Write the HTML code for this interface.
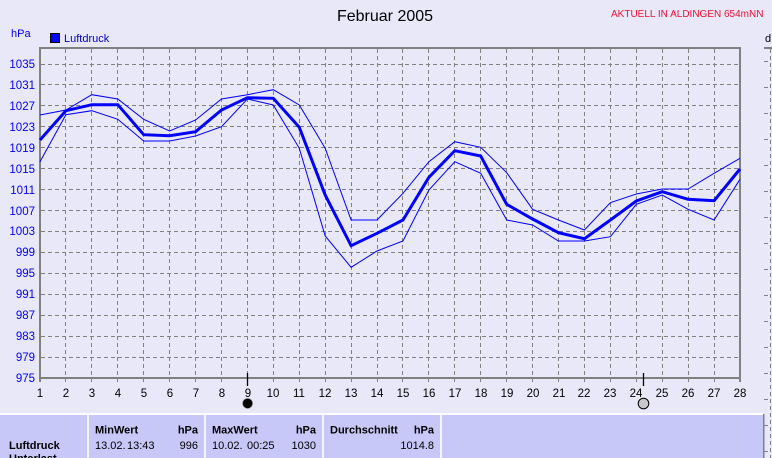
<!DOCTYPE html>
<html>
<head>
<meta charset="utf-8">
<style>
html,body{margin:0;padding:0;background:#E8E8F8;}
svg{display:block;font-family:"Liberation Sans",Arial,sans-serif;}
</style>
</head>
<body>
<svg width="772" height="458" viewBox="0 0 772 458" xmlns="http://www.w3.org/2000/svg">
<rect x="0" y="0" width="772" height="458" fill="#E8E8F8"/>

<!-- Title -->
<text x="385" y="21" font-size="16" text-anchor="middle" fill="#000">Februar 2005</text>
<text x="611" y="17" font-size="10" fill="#F01030">AKTUELL IN ALDINGEN 654mNN</text>

<!-- hPa + legend -->
<text x="11" y="37" font-size="11" fill="#0000FF">hPa</text>
<rect x="50.5" y="33.5" width="9" height="9" fill="#0000FF" stroke="#000" stroke-width="1"/>
<text x="64" y="42" font-size="11" fill="#0000C0">Luftdruck</text>

<!-- Horizontal gridlines -->
<g stroke="#808080" stroke-width="1" stroke-dasharray="4 3" shape-rendering="crispEdges">
<line x1="41" x2="739" y1="357.5" y2="357.5"/>
<line x1="41" x2="739" y1="336.5" y2="336.5"/>
<line x1="41" x2="739" y1="315.5" y2="315.5"/>
<line x1="41" x2="739" y1="294.5" y2="294.5"/>
<line x1="41" x2="739" y1="273.5" y2="273.5"/>
<line x1="41" x2="739" y1="252.5" y2="252.5"/>
<line x1="41" x2="739" y1="231.5" y2="231.5"/>
<line x1="41" x2="739" y1="210.5" y2="210.5"/>
<line x1="41" x2="739" y1="189.5" y2="189.5"/>
<line x1="41" x2="739" y1="168.5" y2="168.5"/>
<line x1="41" x2="739" y1="147.5" y2="147.5"/>
<line x1="41" x2="739" y1="126.5" y2="126.5"/>
<line x1="41" x2="739" y1="105.5" y2="105.5"/>
<line x1="41" x2="739" y1="84.5" y2="84.5"/>
<line x1="41" x2="739" y1="64.5" y2="64.5"/>
</g>

<!-- Vertical gridlines -->
<g stroke="#808080" stroke-width="1" stroke-dasharray="4 3" shape-rendering="crispEdges">
<line y1="49" y2="382" x1="65.5" x2="65.5"/>
<line y1="49" y2="382" x1="91.5" x2="91.5"/>
<line y1="49" y2="382" x1="117.5" x2="117.5"/>
<line y1="49" y2="382" x1="143.5" x2="143.5"/>
<line y1="49" y2="382" x1="169.5" x2="169.5"/>
<line y1="49" y2="382" x1="195.5" x2="195.5"/>
<line y1="49" y2="382" x1="221.5" x2="221.5"/>
<line y1="49" y2="382" x1="247.5" x2="247.5"/>
<line y1="49" y2="382" x1="273.5" x2="273.5"/>
<line y1="49" y2="382" x1="299.5" x2="299.5"/>
<line y1="49" y2="382" x1="325.5" x2="325.5"/>
<line y1="49" y2="382" x1="351.5" x2="351.5"/>
<line y1="49" y2="382" x1="377.5" x2="377.5"/>
<line y1="49" y2="382" x1="402.5" x2="402.5"/>
<line y1="49" y2="382" x1="428.5" x2="428.5"/>
<line y1="49" y2="382" x1="454.5" x2="454.5"/>
<line y1="49" y2="382" x1="480.5" x2="480.5"/>
<line y1="49" y2="382" x1="506.5" x2="506.5"/>
<line y1="49" y2="382" x1="532.5" x2="532.5"/>
<line y1="49" y2="382" x1="558.5" x2="558.5"/>
<line y1="49" y2="382" x1="584.5" x2="584.5"/>
<line y1="49" y2="382" x1="610.5" x2="610.5"/>
<line y1="49" y2="382" x1="636.5" x2="636.5"/>
<line y1="49" y2="382" x1="662.5" x2="662.5"/>
<line y1="49" y2="382" x1="688.5" x2="688.5"/>
<line y1="49" y2="382" x1="714.5" x2="714.5"/>
</g>

<!-- Frame -->
<rect x="40" y="48" width="700" height="330" fill="none" stroke="#808080" stroke-width="2"/>
<line x1="40" y1="378" x2="40" y2="382" stroke="#808080" stroke-width="2"/>
<line x1="740" y1="378" x2="740" y2="382" stroke="#808080" stroke-width="2"/>

<!-- Y labels -->
<g font-size="11.5" fill="#0000FF" text-anchor="end">
<text x="35" y="382">975</text>
<text x="35" y="361">979</text>
<text x="35" y="340">983</text>
<text x="35" y="319">987</text>
<text x="35" y="298">991</text>
<text x="35" y="277">995</text>
<text x="35" y="256">999</text>
<text x="35" y="235">1003</text>
<text x="35" y="215">1007</text>
<text x="35" y="194">1011</text>
<text x="35" y="173">1015</text>
<text x="35" y="152">1019</text>
<text x="35" y="131">1023</text>
<text x="35" y="110">1027</text>
<text x="35" y="89">1031</text>
<text x="35" y="68">1035</text>
</g>

<!-- X labels -->
<g font-size="11.5" fill="#000" text-anchor="middle">
<text x="40" y="397">1</text>
<text x="66" y="397">2</text>
<text x="92" y="397">3</text>
<text x="118" y="397">4</text>
<text x="144" y="397">5</text>
<text x="170" y="397">6</text>
<text x="196" y="397">7</text>
<text x="222" y="397">8</text>
<text x="248" y="397">9</text>
<text x="273" y="397">10</text>
<text x="299" y="397">11</text>
<text x="325" y="397">12</text>
<text x="351" y="397">13</text>
<text x="377" y="397">14</text>
<text x="403" y="397">15</text>
<text x="429" y="397">16</text>
<text x="455" y="397">17</text>
<text x="481" y="397">18</text>
<text x="507" y="397">19</text>
<text x="533" y="397">20</text>
<text x="559" y="397">21</text>
<text x="584" y="397">22</text>
<text x="610" y="397">23</text>
<text x="636" y="397">24</text>
<text x="662" y="397">25</text>
<text x="688" y="397">26</text>
<text x="714" y="397">27</text>
<text x="740" y="397">28</text>
</g>

<!-- Series -->
<g fill="none" stroke="#0000FF" stroke-linejoin="miter">
<polyline stroke-width="1" points="40,115 65.9,110 91.8,94.7 117.8,99 143.7,119.3 169.6,131 195.6,120 221.5,99 247.4,94.7 273.3,89.7 299.3,105 325.2,148.3 351.1,220 377,220 403,193.3 428.9,161.7 454.8,141.7 480.7,147.3 506.7,172.7 532.6,209.3 558.5,220 584.4,230 610.4,202.7 636.3,194 662.2,189 688.1,189 714.1,173.3 740,158.3"/>
<polyline stroke-width="3" points="40,140 65.9,110.7 91.8,104.7 117.8,104.7 143.7,134.7 169.6,135.7 195.6,131.7 221.5,110 247.4,97.7 273.3,98.3 299.3,127.3 325.2,195 351.1,245.7 377,233.3 403,220 428.9,177.3 454.8,150.7 480.7,156 506.7,204.3 532.6,219 558.5,232.7 584.4,238.7 610.4,220 636.3,201 662.2,191.7 688.1,199.3 714.1,200.7 740,169"/>
<polyline stroke-width="1" points="40,161.7 65.9,114.7 91.8,110.7 117.8,119.3 143.7,141 169.6,141 195.6,136 221.5,126.7 247.4,99 273.3,105 299.3,148.3 325.2,236 351.1,267.3 377,251 403,241 428.9,190 454.8,161.7 480.7,173.3 506.7,220 532.6,225 558.5,241 584.4,241 610.4,236.7 636.3,204.3 662.2,195 688.1,209.3 714.1,220 740,179.3"/>
</g>

<!-- Moon markers -->
<line x1="247.5" y1="373" x2="247.5" y2="386" stroke="#000" stroke-width="1.3"/>
<circle cx="247.6" cy="403.4" r="5" fill="#000" stroke="#808080" stroke-width="0.6"/>
<line x1="643.5" y1="373" x2="643.5" y2="386" stroke="#000" stroke-width="1.3"/>
<circle cx="643.5" cy="403.5" r="5.3" fill="#C8C8C8" stroke="#000" stroke-width="1"/>

<!-- Right strip -->
<text x="765" y="42" font-size="11" fill="#000">d</text>
<line x1="764" y1="48" x2="772" y2="48" stroke="#808080" stroke-width="2"/>
<line x1="770.5" y1="49" x2="770.5" y2="458" stroke="#808080" stroke-width="1" stroke-dasharray="4 3"/>
<g stroke="#808080" stroke-width="1">
<line x1="764" x2="768" y1="61.5" y2="61.5"/>
<line x1="764" x2="768" y1="87.5" y2="87.5"/>
<line x1="764" x2="768" y1="113.5" y2="113.5"/>
<line x1="764" x2="768" y1="139.5" y2="139.5"/>
<line x1="764" x2="768" y1="165.5" y2="165.5"/>
<line x1="764" x2="768" y1="191.5" y2="191.5"/>
<line x1="764" x2="768" y1="217.5" y2="217.5"/>
<line x1="764" x2="768" y1="243.5" y2="243.5"/>
<line x1="764" x2="768" y1="269.5" y2="269.5"/>
<line x1="764" x2="768" y1="295.5" y2="295.5"/>
<line x1="764" x2="768" y1="321.5" y2="321.5"/>
<line x1="764" x2="768" y1="347.5" y2="347.5"/>
<line x1="764" x2="768" y1="373.5" y2="373.5"/>
<line x1="764" x2="768" y1="399.5" y2="399.5"/>
<line x1="764" x2="768" y1="425.5" y2="425.5"/>
<line x1="764" x2="768" y1="451.5" y2="451.5"/>
</g>

<!-- Bottom table -->
<rect x="0" y="413" width="763" height="2" fill="#FFFFFF"/>
<rect x="0" y="415" width="763" height="43" fill="#C8C8F8"/>
<rect x="763" y="414" width="1.5" height="44" fill="#808080"/>
<rect x="87" y="415" width="2" height="43" fill="#F4F4FF"/>
<rect x="204" y="415" width="2" height="43" fill="#F4F4FF"/>
<rect x="322" y="415" width="2" height="43" fill="#F4F4FF"/>
<rect x="440" y="415" width="2" height="43" fill="#F4F4FF"/>

<g font-size="11" fill="#000">
<text x="9" y="449" font-weight="bold">Luftdruck</text>
<text x="9" y="462" font-weight="bold">Unterlast</text>

<text x="95" y="433.5" font-weight="bold">MinWert</text>
<text x="198" y="433.5" font-weight="bold" text-anchor="end">hPa</text>
<text x="95" y="449">13.02.</text>
<text x="127" y="449">13:43</text>
<text x="198" y="449" text-anchor="end">996</text>

<text x="212" y="433.5" font-weight="bold">MaxWert</text>
<text x="316" y="433.5" font-weight="bold" text-anchor="end">hPa</text>
<text x="212" y="449">10.02.</text>
<text x="247" y="449">00:25</text>
<text x="316" y="449" text-anchor="end">1030</text>

<text x="330" y="433.5" font-weight="bold">Durchschnitt</text>
<text x="434" y="433.5" font-weight="bold" text-anchor="end">hPa</text>
<text x="434" y="449" text-anchor="end">1014.8</text>
</g>
</svg>
</body>
</html>
